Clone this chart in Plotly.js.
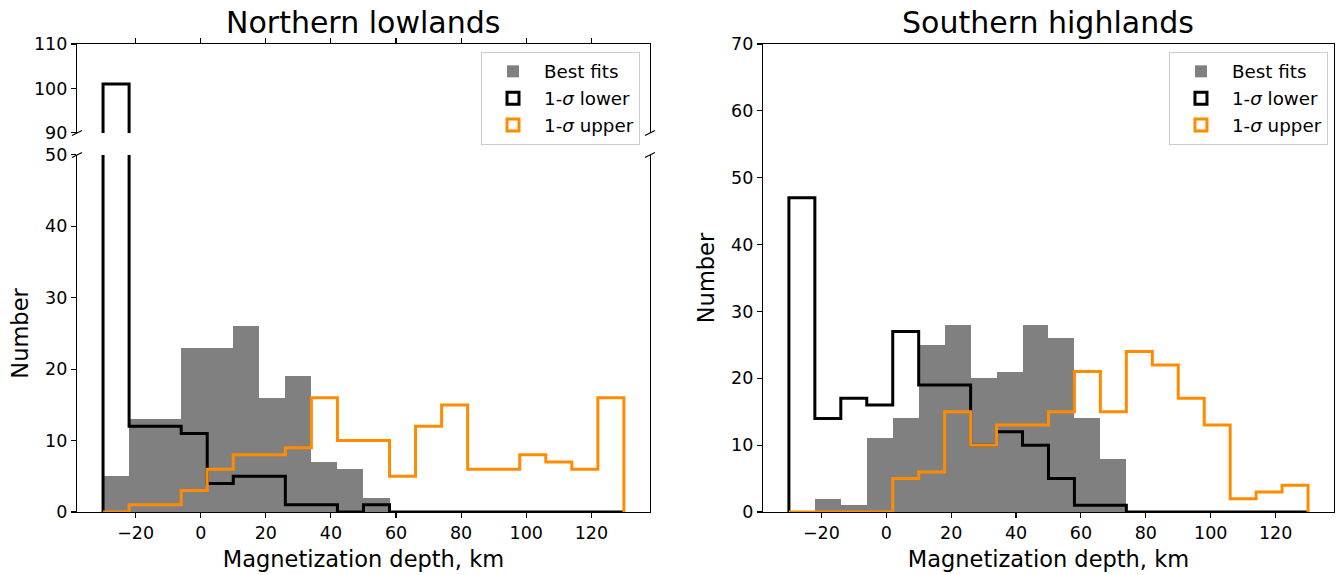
<!DOCTYPE html>
<html>
<head>
<meta charset="utf-8">
<script src="https://cdn.plot.ly/plotly-3.0.1.min.js"></script>
<style>
  html, body { margin: 0; padding: 0; background: #ffffff; }
  #chart { width: 1336px; height: 575px; }
</style>
</head>
<body>
<div id="chart"></div>
<script>
// ---- Data ----
const binEdges = [-30, -22, -14, -6, 2, 10, 18, 26, 34, 42, 50, 58, 66, 74, 82, 90, 98, 106, 114, 122, 130];

// Northern lowlands
const nlBestFits = [5, 13, 13, 23, 23, 26, 16, 19, 7, 6, 2, 0, 0, 0, 0, 0, 0, 0, 0, 0];
const nlLower    = [101, 12, 12, 11, 4, 5, 5, 1, 1, 0, 1, 0, 0, 0, 0, 0, 0, 0, 0, 0];
const nlUpper    = [0, 1, 1, 3, 6, 8, 8, 9, 16, 10, 10, 5, 12, 15, 6, 6, 8, 7, 6, 16];

// Southern highlands
const shBestFits = [0, 2, 1, 11, 14, 25, 28, 20, 21, 28, 26, 14, 8, 0, 0, 0, 0, 0, 0, 0];
const shLower    = [47, 14, 17, 16, 27, 19, 19, 10, 12, 10, 5, 1, 1, 0, 0, 0, 0, 0, 0, 0];
const shUpper    = [0, 0, 0, 0, 5, 6, 15, 10, 13, 13, 15, 21, 15, 24, 22, 17, 13, 2, 3, 4];

const xTickVals = [-20, 0, 20, 40, 60, 80, 100, 120];
const nlLowTicks = [0, 10, 20, 30, 40, 50];
const nlHighTicks = [90, 100, 110];
const shTicks = [0, 10, 20, 30, 40, 50, 60, 70];

const seriesNames = ['Best fits', '1-<i>σ</i> lower', '1-<i>σ</i> upper'];
const panelTitles = ['Northern lowlands', 'Southern highlands'];
const xLabel = 'Magnetization depth, km';
const yLabel = 'Number';

// ---- helpers ----
const GRAY = '#808080', BLACK = '#000000', ORANGE = '#ff8c00';
const FONT = 'DejaVu Sans, sans-serif';

function centers(edges) { const c = []; for (let i = 0; i < edges.length - 1; i++) c.push((edges[i] + edges[i + 1]) / 2); return c; }
function widths(edges) { const w = []; for (let i = 0; i < edges.length - 1; i++) w.push(edges[i + 1] - edges[i]); return w; }
function stepXY(edges, vals) {
  const x = [edges[0]], y = [0];
  for (let i = 0; i < vals.length; i++) { x.push(edges[i]); y.push(vals[i]); }
  x.push(edges[edges.length - 1]); y.push(vals[vals.length - 1]);
  x.push(edges[edges.length - 1]); y.push(0);
  return { x, y };
}
function barTrace(vals, xa, ya, legend, show) {
  return { type: 'bar', x: centers(binEdges), y: vals, width: widths(binEdges),
    marker: { color: GRAY, line: { width: 0 } }, name: seriesNames[0],
    xaxis: xa, yaxis: ya, legend: legend, legendgroup: 'a' + legend, showlegend: show, hoverinfo: 'skip' };
}
function stepTrace(vals, color, xa, ya) {
  const s = stepXY(binEdges, vals);
  return { type: 'scatter', mode: 'lines', x: s.x, y: s.y,
    line: { color: color, width: 3, shape: 'hv' },
    xaxis: xa, yaxis: ya, showlegend: false, hoverinfo: 'skip' };
}
function proxy(name, color, xa, ya, legend, grp) {
  return { type: 'bar', x: [null], y: [null], name: name,
    marker: { color: 'rgba(255,255,255,0)', line: { color: color, width: 3 } },
    xaxis: xa, yaxis: ya, legend: legend, legendgroup: grp + legend, showlegend: true, hoverinfo: 'skip' };
}

const traces = [
  // Northern lowlands (lower part)
  barTrace(nlBestFits, 'x', 'y', 'legend', true),
  proxy(seriesNames[1], BLACK, 'x', 'y', 'legend', 'b'),
  proxy(seriesNames[2], ORANGE, 'x', 'y', 'legend', 'c'),
  stepTrace(nlLower, BLACK, 'x', 'y'),
  stepTrace(nlUpper, ORANGE, 'x', 'y'),
  // Northern lowlands (upper broken part)
  stepTrace(nlLower, BLACK, 'x2', 'y2'),
  stepTrace(nlUpper, ORANGE, 'x2', 'y2'),
  // Southern highlands
  barTrace(shBestFits, 'x3', 'y3', 'legend2', true),
  proxy(seriesNames[1], BLACK, 'x3', 'y3', 'legend2', 'b'),
  proxy(seriesNames[2], ORANGE, 'x3', 'y3', 'legend2', 'c'),
  stepTrace(shLower, BLACK, 'x3', 'y3'),
  stepTrace(shUpper, ORANGE, 'x3', 'y3')
];

const tickFont = { family: FONT, size: 17.5, color: '#000' };
const labelFont = { family: FONT, size: 22.5, color: '#000' };
const XR = [-38, 138];
const leftDom = [0, 0.4558], rightDom = [0.5457, 1];
const lowDom = [0, 0.763], highDom = [0.810, 1];

function xAxisBase(extra) {
  return Object.assign({ range: XR, tickmode: 'array', tickvals: xTickVals, ticks: 'outside', ticklen: 5,
    tickwidth: 1.1, tickcolor: '#000', showline: true, linecolor: '#000', linewidth: 1.1,
    showgrid: false, zeroline: false, tickfont: tickFont, fixedrange: true }, extra);
}
function yAxisBase(extra) {
  return Object.assign({ tickmode: 'array', ticks: 'outside', ticklen: 5, tickwidth: 1.1, tickcolor: '#000',
    showline: true, mirror: true, linecolor: '#000', linewidth: 1.1, showgrid: false, zeroline: false,
    tickfont: tickFont, fixedrange: true }, extra);
}

const breakMark = (xanchor, yref, yanchor) => ({
  type: 'line', xref: 'x domain', yref: yref, xsizemode: 'pixel', ysizemode: 'pixel',
  xanchor: xanchor, yanchor: yanchor, x0: -5, x1: 5, y0: -2.5, y1: 2.5,
  line: { color: '#000', width: 1.1 }
});

const legendBase = (x) => ({ x: x, xanchor: 'right', y: 0.983, yanchor: 'top', traceorder: 'normal',
  itemwidth: 52, tracegroupgap: 2,
  bgcolor: 'rgba(255,255,255,0.8)', bordercolor: '#cccccc', borderwidth: 1,
  font: { family: FONT, size: 18.3, color: '#000' } });

const layout = {
  width: 1336, height: 575,
  margin: { l: 77, r: 2, t: 44, b: 63 },
  paper_bgcolor: '#fff', plot_bgcolor: '#fff',
  font: { family: FONT, color: '#000' },
  barmode: 'overlay', bargap: 0,
  xaxis: xAxisBase({ domain: leftDom, anchor: 'y',
    title: { text: xLabel, font: labelFont, standoff: 9 } }),
  yaxis: yAxisBase({ domain: lowDom, anchor: 'x', range: [0, 50], tickvals: nlLowTicks,
    title: { text: yLabel, font: labelFont, standoff: 10 } }),
  xaxis2: xAxisBase({ domain: leftDom, anchor: 'y2', side: 'top', matches: 'x', showticklabels: false }),
  yaxis2: yAxisBase({ domain: highDom, anchor: 'x2', range: [90, 110], tickvals: nlHighTicks }),
  xaxis3: xAxisBase({ domain: rightDom, anchor: 'y3', mirror: true,
    title: { text: xLabel, font: labelFont, standoff: 9 } }),
  yaxis3: yAxisBase({ domain: [0, 1], anchor: 'x3', range: [0, 70], tickvals: shTicks,
    title: { text: yLabel, font: labelFont, standoff: 10 } }),
  legend: legendBase(0.4479),
  legend2: legendBase(0.9952),
  annotations: [
    { text: panelTitles[0], xref: 'paper', yref: 'paper', x: (leftDom[0] + leftDom[1]) / 2, y: 1,
      xanchor: 'center', yanchor: 'bottom', yshift: 2, showarrow: false, font: { family: FONT, size: 30, color: '#000' } },
    { text: panelTitles[1], xref: 'paper', yref: 'paper', x: (rightDom[0] + rightDom[1]) / 2, y: 1,
      xanchor: 'center', yanchor: 'bottom', yshift: 2, showarrow: false, font: { family: FONT, size: 30, color: '#000' } }
  ],
  shapes: [
    breakMark(0, 'y2 domain', 0), breakMark(1, 'y2 domain', 0),
    breakMark(0, 'y domain', 1), breakMark(1, 'y domain', 1)
  ]
};

Plotly.newPlot('chart', traces, layout, { displayModeBar: false, staticPlot: true });
</script>
</body>
</html>
